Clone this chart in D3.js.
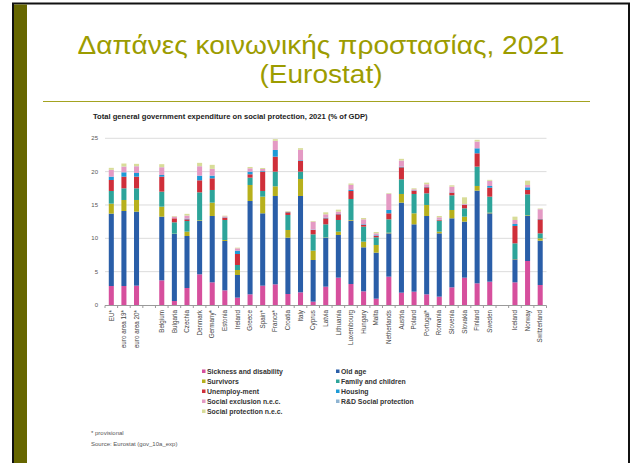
<!DOCTYPE html>
<html>
<head>
<meta charset="utf-8">
<script src="https://cdn.jsdelivr.net/npm/d3@7"></script>
<style>
  body { margin: 0; background: #fff; }
  svg { display: block; }
</style>
</head>
<body>
<svg id="slide"></svg>
<script>
const width = 632, height = 463

// countries in the order of the chart, gaps come after these
const countries = ["EU*", "euro area 19*", "euro area 20*",
    "Belgium", "Bulgaria", "Czechia", "Denmark", "Germany*", "Estonia", "Ireland", "Greece",
    "Spain*", "France*", "Croatia", "Italy", "Cyprus", "Latvia", "Lithuania", "Luxembourg",
    "Hungary", "Malta", "Netherlands", "Austria", "Poland", "Portugal*", "Romania", "Slovenia",
    "Slovakia", "Finland", "Sweden",
    "Iceland", "Norway", "Switzerland"]
const gapAfter = ["euro area 20*", "Sweden"]

const yTicks = [0, 5, 10, 15, 20, 25]

// % of GDP, one array per function (stack order bottom -> top)
const sickness   = [2.85, 2.85, 2.9, 3.7, 0.6, 2.55, 4.6, 3.4, 2.2, 1.1, 1.6, 2.9, 3.1, 1.65, 1.9, 0.5, 2.75, 4.1, 3.15, 2.05, 0.95, 4.25, 1.85, 2.0, 1.6, 1.25, 2.65, 4.1, 3.25, 3.5, 3.4, 6.6, 3.0]
const oldAge     = [10.85, 11.25, 11.1, 9.55, 10.05, 7.8, 8.0, 9.95, 7.4, 3.4, 14.0, 10.85, 13.25, 8.45, 14.45, 6.25, 7.35, 6.4, 9.5, 6.6, 6.9, 6.5, 13.5, 10.1, 11.75, 9.5, 10.35, 8.4, 13.9, 10.25, 3.45, 6.75, 6.65]
const survivors  = [1.5, 1.65, 1.75, 1.5, 0.05, 0.65, 0.1, 2.0, 0.15, 0.75, 2.4, 2.5, 1.45, 1.15, 2.55, 1.4, 0.05, 0.5, 0.1, 0.85, 1.15, 0.1, 1.3, 1.65, 1.65, 0.25, 1.25, 0.75, 0.7, 0.1, 0.05, 0.1, 0.35]
const family     = [1.9, 1.75, 1.75, 2.25, 1.7, 1.6, 4.2, 1.9, 3.0, 0.75, 1.1, 0.85, 2.2, 2.25, 1.1, 2.45, 1.95, 1.75, 3.15, 2.25, 1.15, 2.0, 2.2, 2.9, 1.75, 1.65, 2.2, 1.25, 2.9, 2.4, 2.35, 3.15, 0.75]
const unemploy   = [1.65, 1.75, 1.75, 2.25, 0.6, 0.25, 1.8, 1.75, 0.35, 1.65, 0.5, 2.9, 2.25, 0.4, 1.6, 0.65, 0.9, 0.85, 1.2, 0.25, 0.2, 0.9, 1.8, 0.5, 0.9, 0.1, 0.4, 0.5, 2.0, 1.35, 2.6, 0.65, 2.1]
const housing    = [0.5, 0.65, 0.55, 0.25, 0, 0.1, 0.7, 0.4, 0.05, 0.5, 0.4, 0.1, 1.0, 0.05, 0.1, 0.05, 0.1, 0.05, 0.2, 0.1, 0.1, 0.5, 0.1, 0.05, 0.05, 0.05, 0.05, 0.05, 0.75, 0.25, 0.3, 0.4, 0.05]
const socExcl    = [1.0, 0.85, 1.0, 1.15, 0.25, 0.45, 1.4, 1.0, 0.15, 0.35, 0.5, 0.3, 1.35, 0.05, 1.55, 1.2, 0.5, 0.35, 0.7, 0.75, 0.3, 2.4, 0.9, 0.15, 0.4, 0.35, 0.85, 0.1, 1.0, 0.75, 0.6, 0.35, 1.45]
const rdSocial   = [0.02, 0.02, 0.02, 0.02, 0, 0.02, 0.02, 0.02, 0, 0, 0, 0, 0.02, 0, 0.02, 0, 0, 0, 0.02, 0, 0, 0.02, 0.02, 0, 0, 0, 0, 0, 0.02, 0.02, 0, 0, 0.02]
const spNec      = [0.3, 0.45, 0.35, 0.45, 0.1, 0.25, 0.5, 0.6, 0.1, 0.1, 0.2, 0.15, 0.25, 0.1, 0.25, 0.1, 0.3, 0.3, 0.2, 0.2, 0.2, 0.1, 0.25, 0.15, 0.25, 0.2, 0.2, 1.0, 0.25, 0.15, 0.5, 0.65, 0.1]

const series = [
    {key: "sickness", name: "Sickness and disability", color: "#d64f9d", values: sickness},
    {key: "oldAge", name: "Old age", color: "#2a5ea8", values: oldAge},
    {key: "survivors", name: "Survivors", color: "#b7b01c", values: survivors},
    {key: "family", name: "Family and children", color: "#2da49a", values: family},
    {key: "unemploy", name: "Unemploy-ment", color: "#cf2f3a", values: unemploy},
    {key: "housing", name: "Housing", color: "#1d9ad6", values: housing},
    {key: "socExcl", name: "Social exclusion n.e.c.", color: "#e49ac4", values: socExcl},
    {key: "rdSocial", name: "R&D Social protection", color: "#8fb4d2", values: rdSocial},
    {key: "spNec", name: "Social protection n.e.c.", color: "#d8dc98", values: spNec}
]
// legend layout: left column then right column
const legendLeft = ["sickness", "survivors", "unemploy", "socExcl", "spNec"]
const legendRight = ["oldAge", "family", "housing", "rdSocial"]

const svg = d3.select('#slide')
    .attr("width", width)
    .attr("height", height)

// ---- slide frame ----
svg.append("rect")
    .attr("x", 13).attr("y", 3.5)
    .attr("width", 616).attr("height", 470)
    .attr("fill", "none").attr("stroke", "#111").attr("stroke-width", 2)
svg.append("rect")
    .attr("x", 14).attr("y", 4.5)
    .attr("width", 13).attr("height", 470)
    .attr("fill", "#666600")

// ---- slide title (narrowed to look like the slide font) ----
const titleColor = "#9c9c00"
const titleFont = "Liberation Sans, Arial, sans-serif"
const t1 = svg.append("text")
    .attr("text-anchor", "middle")
    .attr("font-family", titleFont)
    .attr("font-size", 25.5)
    .attr("fill", titleColor)
    .text("Δαπάνες κοινωνικής προστασίας, 2021")
const sx = 487 / t1.node().getComputedTextLength()
t1.attr("transform", `translate(321,54) scale(${sx},1)`)
svg.append("text")
    .attr("transform", `translate(321,83) scale(${sx},1)`)
    .attr("text-anchor", "middle")
    .attr("font-family", titleFont)
    .attr("font-size", 25.5)
    .attr("fill", titleColor)
    .text("(Eurostat)")
svg.append("line")
    .attr("x1", 43).attr("x2", 590)
    .attr("y1", 101.5).attr("y2", 101.5)
    .attr("stroke", "#a3a320").attr("stroke-width", 1.2)

// ---- chart ----
const font = "Liberation Sans, Arial, sans-serif"
svg.append("text")
    .attr("x", 93).attr("y", 119)
    .attr("font-family", font)
    .attr("font-weight", "bold")
    .attr("font-size", 7.6)
    .attr("fill", "#222")
    .text("Total general government expenditure on social protection, 2021 (% of GDP)")

let slots = []
countries.forEach(c => {
    slots.push(c)
    if (gapAfter.includes(c)) slots.push("gap:" + c)
})

const x = d3.scaleBand()
    .domain(slots)
    .range([105, 546.5])
    .paddingInner(0.6)
    .paddingOuter(0.3)

const y = d3.scaleLinear()
    .domain([0, 25])
    .range([305, 138.3])

// gridlines
svg.append("g")
    .selectAll("line")
    .data(yTicks.filter(d => d > 0))
    .enter()
    .append("line")
    .attr("x1", 105).attr("x2", 546.5)
    .attr("y1", d => y(d)).attr("y2", d => y(d))
    .attr("stroke", "#dcdcdc").attr("stroke-width", 1)

// y labels
svg.append("g")
    .selectAll("text")
    .data(yTicks)
    .enter()
    .append("text")
    .attr("x", 98).attr("y", d => y(d) + 2)
    .attr("text-anchor", "end")
    .attr("font-family", font)
    .attr("font-size", 6)
    .attr("fill", "#555")
    .text(d => d)

// stacked bars
const rows = countries.map((c, i) => {
    let r = {country: c}
    series.forEach(s => r[s.key] = s.values[i])
    return r
})
const stacked = d3.stack().keys(series.map(s => s.key))(rows)

svg.append("g")
    .selectAll("g")
    .data(stacked)
    .enter()
    .append("g")
    .attr("fill", (d, i) => series[i].color)
    .selectAll("rect")
    .data(d => d)
    .enter()
    .append("rect")
    .attr("x", d => x(d.data.country))
    .attr("width", x.bandwidth())
    .attr("y", d => y(d[1]))
    .attr("height", d => Math.max(0, y(d[0]) - y(d[1])))

// x axis
const xAxis = svg.append("g")
xAxis.append("line")
    .attr("x1", 105).attr("x2", 546.5)
    .attr("y1", 305.5).attr("y2", 305.5)
    .attr("stroke", "#9a9a9a")
xAxis.selectAll("line.tick")
    .data(d3.range(slots.length + 1))
    .enter()
    .append("line")
    .attr("class", "tick")
    .attr("x1", i => 105 + i * (441.5 / slots.length))
    .attr("x2", i => 105 + i * (441.5 / slots.length))
    .attr("y1", 305.5).attr("y2", 308)
    .attr("stroke", "#9a9a9a")

xAxis.selectAll("text")
    .data(countries)
    .enter()
    .append("text")
    .attr("transform", d => `translate(${x(d) + x.bandwidth() / 2 + 2.2},310) rotate(-90)`)
    .attr("text-anchor", "end")
    .attr("font-family", font)
    .attr("font-size", 6.3)
    .attr("fill", "#444")
    .text(d => d)

// legend
function drawLegend(keys, lx) {
    keys.forEach((k, i) => {
        let s = series.find(e => e.key == k)
        let ly = 374 + i * 10
        svg.append("rect")
            .attr("x", lx).attr("y", ly - 4.5)
            .attr("width", 3.5).attr("height", 3.5)
            .attr("fill", s.color)
        svg.append("text")
            .attr("x", lx + 5).attr("y", ly)
            .attr("font-family", font)
            .attr("font-weight", "bold")
            .attr("font-size", 6.9)
            .attr("fill", "#333")
            .text(s.name)
    })
}
drawLegend(legendLeft, 202)
drawLegend(legendRight, 336)

// footnotes
svg.append("text")
    .attr("x", 91).attr("y", 435)
    .attr("font-family", font).attr("font-size", 6)
    .attr("fill", "#555")
    .text("* provisional")
svg.append("text")
    .attr("x", 91).attr("y", 446)
    .attr("font-family", font).attr("font-size", 6)
    .attr("fill", "#555")
    .text("Source: Eurostat (gov_10a_exp)")
</script>
</body>
</html>
